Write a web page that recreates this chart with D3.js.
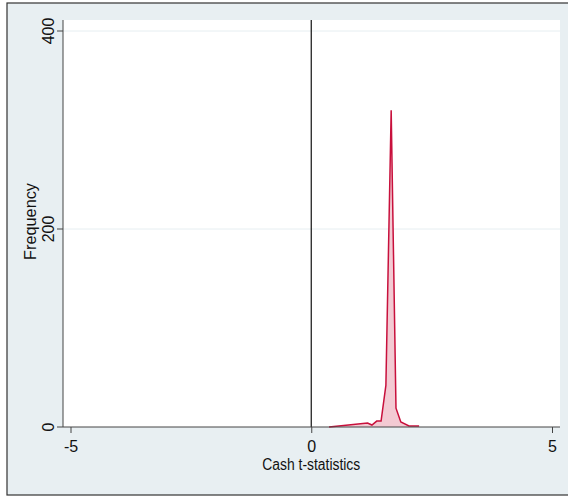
<!DOCTYPE html>
<html><head><meta charset="utf-8">
<script src="https://cdn.jsdelivr.net/npm/d3@7"></script>
<style>body{margin:0;background:#fff}svg{display:block}</style>
</head><body>
<script>
const tStats = [0.37, 1.17, 1.26, 1.36, 1.45, 1.55, 1.66, 1.76, 1.86, 2.03, 2.24];
const frequency = [0, 4, 2, 6, 6, 42, 320, 19, 5, 1, 1];
const xTicks = [-5, 0, 5];
const yTicks = [0, 200, 400];
const xLabel = "Cash t-statistics";
const yLabel = "Frequency";

const W = 568, H = 496;
const svg = d3.select("body").append("svg").attr("width", W).attr("height", H);
svg.append("rect").attr("x", 7).attr("y", 3).attr("width", 570).attr("height", 492)
  .attr("fill", "#e8eff2").attr("stroke", "#333").attr("stroke-width", 1.2);

const plot = {l: 63, t: 20, r: 560, b: 427};
svg.append("rect").attr("x", plot.l).attr("y", plot.t).attr("width", plot.r - plot.l).attr("height", plot.b - plot.t).attr("fill", "#fff");

const x = d3.scaleLinear().domain([-5, 5]).range([70.5, 552]);
const y = d3.scaleLinear().domain([0, 400]).range([427, 31]);

// grid
svg.append("g").selectAll("line").data(yTicks.filter(d => d > 0)).join("line")
  .attr("x1", plot.l).attr("x2", plot.r).attr("y1", d => y(d)).attr("y2", d => y(d))
  .attr("stroke", "#e6eef1").attr("stroke-width", 1);

// vertical line at 0
svg.append("line").attr("x1", x(0)).attr("x2", x(0)).attr("y1", plot.t).attr("y2", plot.b)
  .attr("stroke", "#111").attr("stroke-width", 1.2);

// area
const pts = tStats.map((t, i) => [t, frequency[i]]);
const area = d3.area().x(d => x(d[0])).y0(y(0)).y1(d => y(d[1]));
const line = d3.line().x(d => x(d[0])).y(d => y(d[1]));
svg.append("path").attr("d", area(pts)).attr("fill", "#f3cad3").attr("stroke", "none");
svg.append("path").attr("d", line(pts)).attr("fill", "none").attr("stroke", "#c8103c").attr("stroke-width", 1.5).attr("stroke-linejoin", "miter");

// axes
const fontFam = "'Liberation Sans', Arial, Helvetica, sans-serif";
const xAxis = svg.append("g").attr("transform", `translate(0,${plot.b})`)
  .call(d3.axisBottom(x).tickValues(xTicks).tickSize(6).tickFormat(d => String(d)));
xAxis.select(".domain").attr("d", `M${plot.l},0H${plot.r}`).attr("stroke", "#444");
xAxis.selectAll("line").attr("stroke", "#444");
xAxis.selectAll("text").attr("font-family", fontFam).attr("font-size", 16).attr("fill", "#111")
  .attr("y", 25).attr("dy", 0);

const yAxis = svg.append("g").attr("transform", `translate(${plot.l},0)`)
  .call(d3.axisLeft(y).tickValues(yTicks).tickSize(6).tickFormat(d => String(d)));
yAxis.select(".domain").attr("d", `M0,${plot.t}V${plot.b}`).attr("stroke", "#444");
yAxis.selectAll(".tick").attr("transform", null);
yAxis.selectAll(".tick line").attr("stroke", "#444").attr("y1", d => y(d)).attr("y2", d => y(d));
yAxis.selectAll("text").attr("font-family", fontFam).attr("font-size", 16).attr("fill", "#111")
  .attr("text-anchor", "middle").attr("dy", 0).attr("x", 0).attr("y", 0)
  .attr("transform", d => `translate(-9,${y(d)}) rotate(-90)`);

svg.append("text").attr("x", x(0)).attr("y", 470).attr("text-anchor", "middle")
  .attr("font-family", fontFam).attr("font-size", 16).attr("fill", "#111")
  .attr("textLength", 98).attr("lengthAdjust", "spacingAndGlyphs").text(xLabel);
svg.append("text").attr("transform", `translate(36,221.5) rotate(-90)`).attr("text-anchor", "middle")
  .attr("font-family", fontFam).attr("font-size", 16).attr("fill", "#111")
  .attr("textLength", 77).attr("lengthAdjust", "spacingAndGlyphs").text(yLabel);
</script>
</body></html>
